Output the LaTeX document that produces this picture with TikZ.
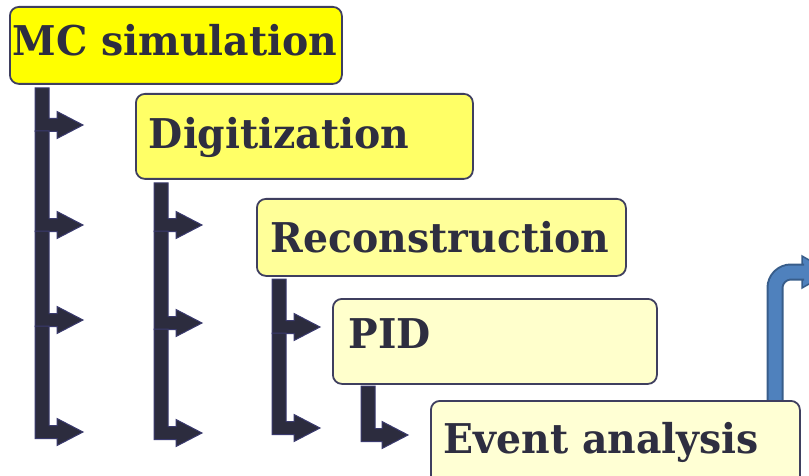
\documentclass[tikz,border=0pt]{standalone}
\usepackage{fontspec}
\setmainfont{DejaVu Serif}[FakeStretch=0.96]
\definecolor{boxline}{HTML}{3F3F5F}
\definecolor{txt}{HTML}{2E2E40}
\definecolor{arrfill}{HTML}{2C2C3E}
\definecolor{arrline}{HTML}{3A3A6E}
\definecolor{fillA}{HTML}{FFFF00}
\definecolor{fillB}{HTML}{FFFF66}
\definecolor{fillC}{HTML}{FFFF99}
\definecolor{fillD}{HTML}{FFFFCC}
\definecolor{fillE}{HTML}{FFFFD4}
\definecolor{bluefill}{HTML}{4F81BD}
\definecolor{blueline}{HTML}{385D8A}
\tikzset{
  box/.style={draw=boxline, line width=1.8pt, rounded corners=9pt, anchor=north west,
    align=left, text=txt, font=\bfseries\fontsize{41}{41}\selectfont,
    text height=30pt, inner ysep=0pt},
  larr/.style={fill=arrfill, draw=arrline, line width=1pt, line join=miter},
}
\newcommand\bentarr[4]{% x, ytop, ymid, xtip
  \filldraw[larr] ({#1-7},{#2}) -- ({#1+7},{#2}) -- ({#1+7},{#3-6.5}) -- ({#4-26},{#3-6.5})
    -- ({#4-26},{#3-13.5}) -- ({#4},{#3}) -- ({#4-26},{#3+13.5}) -- ({#4-26},{#3+6.5})
    -- ({#1-7},{#3+6.5}) -- cycle;}
\begin{document}
\begin{tikzpicture}[x=1pt,y=-1pt]
\useasboundingbox (0,0) rectangle (809,476);
% blue bent arrow (behind the last box)
\coordinate (bstart) at (775,404);
\coordinate (bcorner) at (775,272);
\coordinate (bend) at (805,272);
\filldraw[fill=bluefill, draw=blueline, line width=1.5pt] (802,256) -- (830,272) -- (802,288) -- cycle;
\draw[blueline, line width=17pt, rounded corners=16pt] (bstart) -- (bcorner) -- (804,272);
\draw[bluefill, line width=13pt, rounded corners=16pt] (775,403) -- (bcorner) -- (bend);
% boxes
\node[box, fill=fillA, minimum width=332pt, minimum height=77pt, inner xsep=3pt, text width=326pt, text depth=9pt]
  (mc) at (9,6) {MC simulation};
\node[box, fill=fillB, minimum width=337pt, minimum height=85pt, inner xsep=13pt, text width=311pt, text depth=5pt]
  (dig) at (135,93) {Digitization};
\node[box, fill=fillC, minimum width=369pt, minimum height=77pt, inner xsep=14pt, text width=341pt, text depth=0pt]
  (rec) at (256,198) {Reconstruction};
\node[box, fill=fillD, minimum width=324pt, minimum height=85pt, inner xsep=16pt, text width=292pt, text depth=15pt]
  (pid) at (332,298) {PID};
\node[box, fill=fillE, minimum width=369pt, minimum height=87pt, inner xsep=13pt, text width=343pt, text depth=12pt]
  (ana) at (430,400) {Event analysis};
% bent arrows, column 1
\bentarr{42}{88}{125}{83}
\bentarr{42}{131}{225}{83}
\bentarr{42}{231}{320}{83}
\bentarr{42}{326}{432}{83}
% column 2
\bentarr{161}{183}{225}{202}
\bentarr{161}{231}{323}{202}
\bentarr{161}{329}{433}{202}
% column 3
\bentarr{279}{279}{327}{320}
\bentarr{279}{333}{428}{320}
% column 4
\bentarr{368}{386}{435}{408}
\end{tikzpicture}
\end{document}
